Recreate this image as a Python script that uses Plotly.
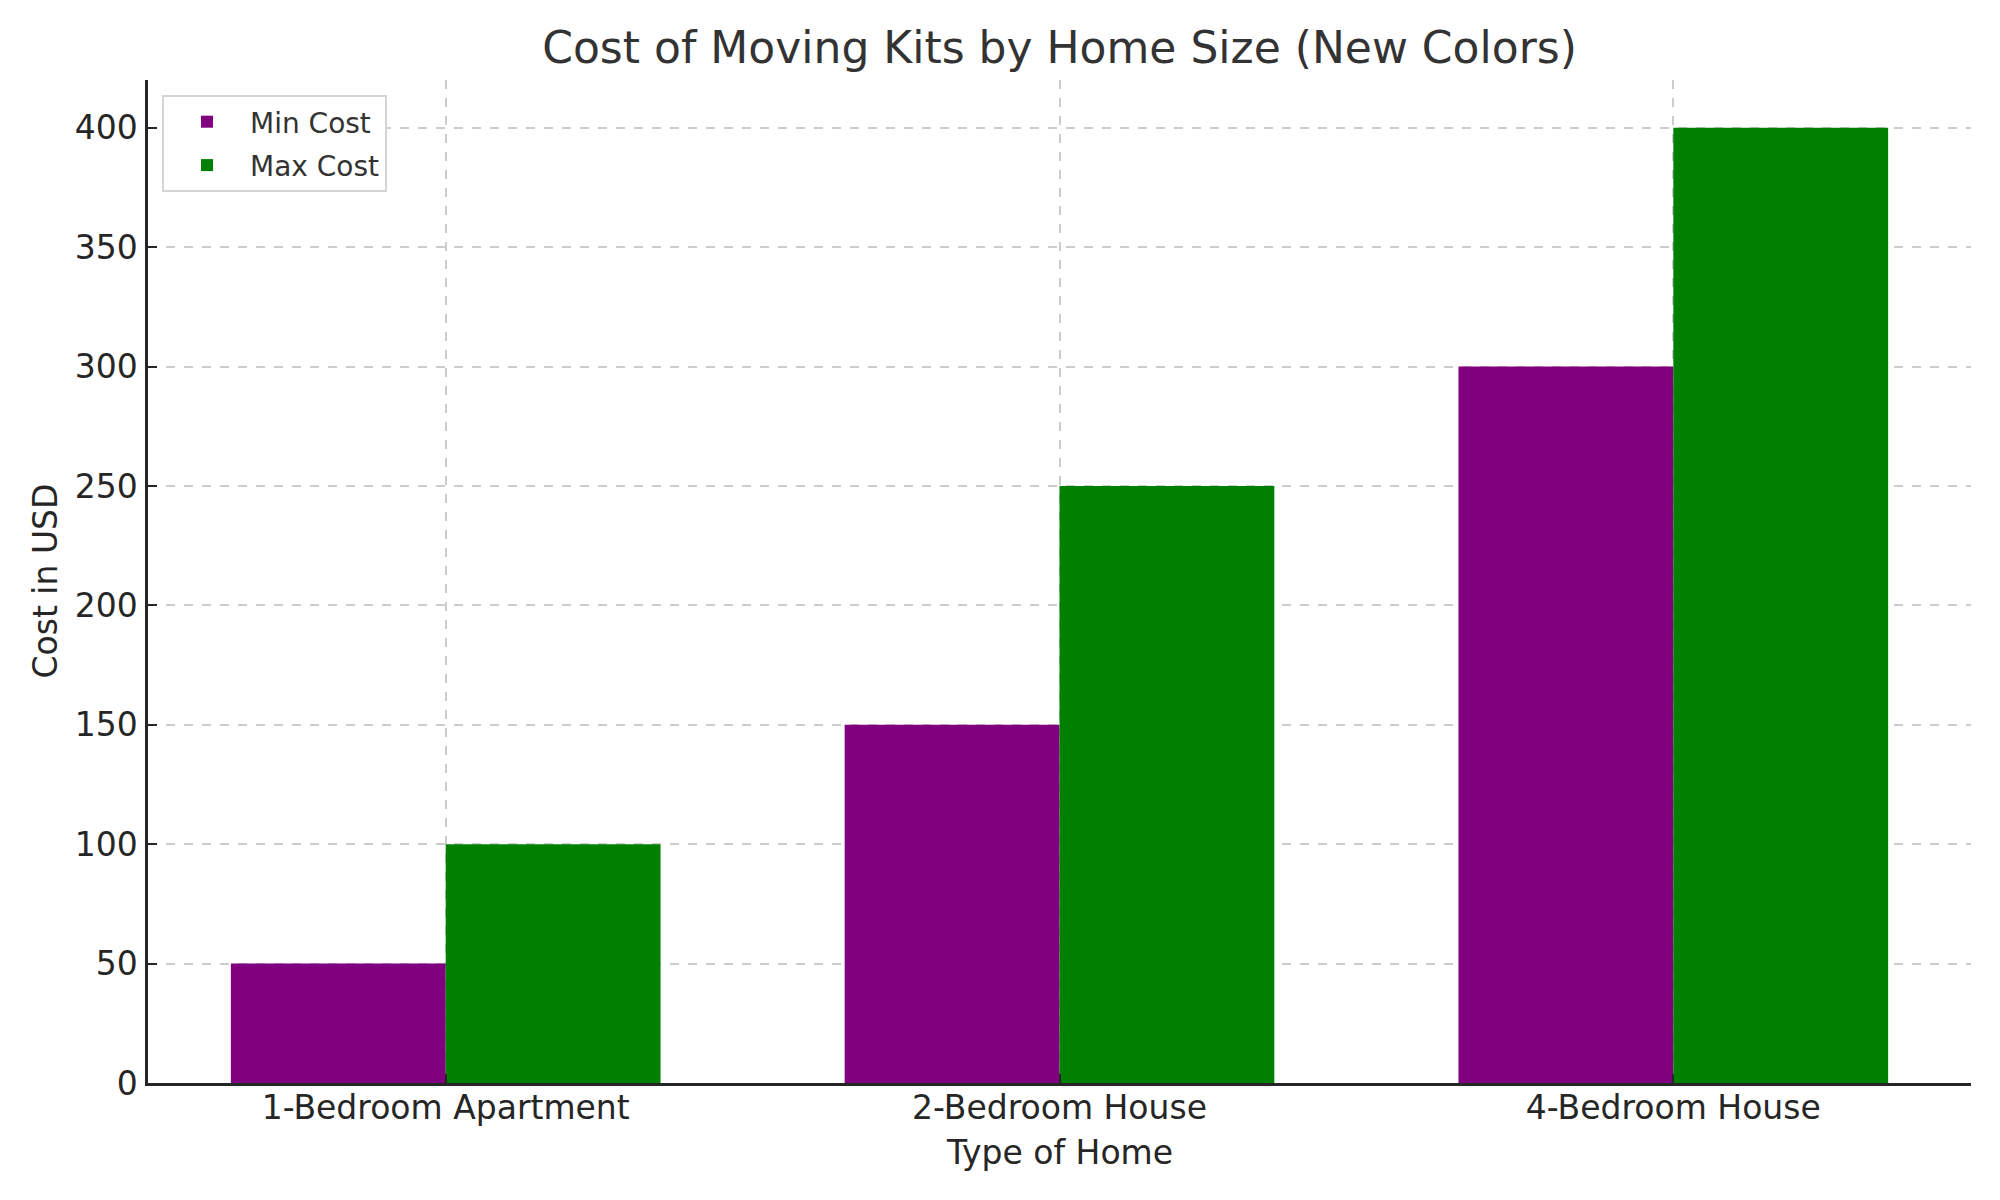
import plotly.graph_objects as go

categories = ["1-Bedroom Apartment", "2-Bedroom House", "4-Bedroom House"]
min_cost = [50, 150, 300]
max_cost = [100, 250, 400]
y_ticks = [0, 50, 100, 150, 200, 250, 300, 350, 400]

FONT = "DejaVu Sans"
W, H = 2000, 1200
OFF = 8  # page body margin
# target plot area (screen px)
PL, PR, PT, PB = 148, 1971, 80, 1083
L, T = PL - OFF, PT - OFF
R, B = W - (PR - OFF), H - (PB - OFF)
PW, PH = PR - PL, PB - PT

fig = go.Figure()
fig.add_trace(go.Bar(x=categories, y=min_cost, name="Min Cost", legendgroup="a",
                     marker=dict(color="#800080", line=dict(width=0))))
fig.add_trace(go.Bar(x=categories, y=max_cost, name="Max Cost", legendgroup="b",
                     marker=dict(color="#008000", line=dict(width=0))))

fig.update_layout(
    width=W, height=H,
    margin=dict(l=L, r=R, t=T, b=B, autoexpand=False),
    paper_bgcolor="white", plot_bgcolor="white",
    barmode="group", bargap=0.3, bargroupgap=0,
    font=dict(family=FONT, color="#262626"),
    title=dict(text="Cost of Moving Kits by Home Size (New Colors)",
               font=dict(family=FONT, size=44, color="#333333"),
               x=0.5, xref="paper", xanchor="center",
               y=1 - (48 - OFF) / H, yref="container", yanchor="middle"),
    legend=dict(x=(162 - PL) / PW, y=1 - (95 - PT) / PH, xanchor="left", yanchor="top",
                bgcolor="white", bordercolor="#d4d4d4", borderwidth=2,
                font=dict(family=FONT, size=28, color="#333333"),
                tracegroupgap=4, itemwidth=76),
    showlegend=True,
)

fig.update_xaxes(
    type="category", range=[-0.485, 2.485],
    showline=True, linecolor="#262626", linewidth=2.5, mirror=False,
    showgrid=True, gridcolor="#cccccc", griddash="dash", gridwidth=1.5,
    ticks="inside", ticklen=9, tickwidth=2, tickcolor="#262626",
    ticklabelstandoff=-6,
    tickfont=dict(family=FONT, size=33, color="#262626"),
    automargin=False, zeroline=False,
)
fig.update_yaxes(
    range=[0, 420], tickvals=y_ticks,
    showline=True, linecolor="#262626", linewidth=2.5, mirror=False,
    showgrid=True, gridcolor="#cccccc", griddash="dash", gridwidth=1.5,
    ticks="inside", ticklen=9, tickwidth=2, tickcolor="#262626",
    ticklabelstandoff=1,
    tickfont=dict(family=FONT, size=33, color="#262626"),
    automargin=False, zeroline=False,
)

fig.add_annotation(text="Type of Home", xref="paper", yref="paper",
                   x=0.5, y=-(1152 - PB) / PH, xanchor="center", yanchor="middle",
                   showarrow=False, font=dict(family=FONT, size=33, color="#262626"))
fig.add_annotation(text="Cost in USD", xref="paper", yref="paper",
                   x=-(PL - 45) / PW, y=0.5, xanchor="center", yanchor="middle",
                   textangle=-90, showarrow=False,
                   font=dict(family=FONT, size=33, color="#262626"))

fig.write_html("out.html")
